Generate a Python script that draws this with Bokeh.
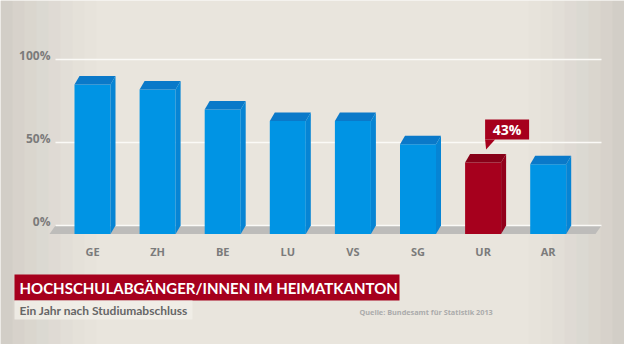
from bokeh.plotting import figure
from bokeh.models import Range1d, BoxAnnotation, ColumnDataSource
from bokeh.core.properties import value
from bokeh.embed import file_html
from bokeh.resources import INLINE

# ---- data ----
cantons = ["GE", "ZH", "BE", "LU", "VS", "SG", "UR", "AR"]
shares = [90, 87, 75, 68, 68, 54, 43, 42]
highlight = "UR"
y_ticks = [0, 50, 100]
y_tick_labels = ["0%", "50%", "100%"]
title = "HOCHSCHULABGÄNGER/INNEN IM HEIMATKANTON"
subtitle = "Ein Jahr nach Studiumabschluss"
source = "Quelle: Bundesamt für Statistik 2013"

# ---- geometry (reference pixels -> data) ----
PX_PER_CAT = 65.1
X0 = 100.0          # pixel x of first category centre
PX_PER_PCT = 1.66
Y0 = 233.0          # pixel y of 0 %


def dx(X):
    return (X - X0) / PX_PER_CAT


def dy(Y):
    return (Y0 - Y) / PX_PER_PCT


W = 18 / PX_PER_CAT          # half bar width
DX = 5 / PX_PER_CAT          # depth offset x
D = 8.5 / PX_PER_PCT          # depth offset y

p = figure(width=624, height=344, output_backend="svg", toolbar_location=None,
           x_range=Range1d(dx(8), dx(632)), y_range=Range1d(dy(352), dy(8)),
           x_axis_location=None, y_axis_location=None, min_border=0)
p.outline_line_color = None
p.grid.visible = False
p.background_fill_color = "#e9e5dd"
p.border_fill_color = "#e9e5dd"

# subtle vignette on the edges
for i, a in enumerate([0.06, 0.05, 0.045, 0.04, 0.035, 0.03, 0.025, 0.02]):
    w = 12 * (i + 1)
    p.add_layout(BoxAnnotation(left=dx(8), right=dx(8 + w), fill_color="#9c9a96",
                               fill_alpha=a, line_color=None, level="underlay"))
    p.add_layout(BoxAnnotation(right=dx(632), left=dx(632 - w), fill_color="#9c9a96",
                               fill_alpha=a, line_color=None, level="underlay"))

# floor
p.patch([dx(63), dx(609), dx(603), dx(57)], [0, 0, -D, -D], fill_color="#bdbcba", line_color=None)

# gridlines
for t in y_ticks:
    p.segment(x0=dx(63), y0=t, x1=dx(609), y1=t, line_color="#fbfaf7", line_width=1.6)

# y tick labels
p.text(x=[dx(58)] * len(y_ticks), y=[t + 2.2 for t in y_ticks], text=y_tick_labels,
       text_align="right", text_baseline="middle", text_font=value("Open Sans"),
       text_font_style="bold", text_font_size="12px", text_color="#7b7b7b")

# bars (3D)
idx = list(range(len(cantons)))
front_col, top_col, side_col = [], [], []
for c in cantons:
    if c == highlight:
        front_col.append("#a6001d"); top_col.append("#870018"); side_col.append("#92001b")
    else:
        front_col.append("#0094e4"); top_col.append("#0a79c9"); side_col.append("#0684d4")

src = ColumnDataSource(dict(l=[i - W for i in idx], r=[i + W for i in idx],
                            b=[-D] * len(idx), t=[v - D for v in shares], c=front_col))
p.quad(left="l", right="r", bottom="b", top="t", fill_color="c", line_color=None, source=src)

top_xs, top_ys, side_xs, side_ys = [], [], [], []
for i, v in zip(idx, shares):
    top_xs.append([i - W, i - W + DX, i + W + DX, i + W])
    top_ys.append([v - D, v, v, v - D])
    side_xs.append([i + W, i + W + DX, i + W + DX, i + W])
    side_ys.append([v - D, v, 0, -D])
p.patches(top_xs, top_ys, fill_color=top_col, line_color=None)
p.patches(side_xs, side_ys, fill_color=side_col, line_color=None)

# category labels
p.text(x=idx, y=[dy(259)] * len(idx), text=cantons, text_align="center", text_baseline="middle",
       text_font=value("Open Sans"), text_font_style="bold", text_font_size="11px",
       text_color="#7b7b7b")

# callout for highlighted bar
hi = cantons.index(highlight)
hv = shares[hi]
bl, br = hi + 2 / PX_PER_CAT, hi + 46 / PX_PER_CAT
bb, bt = hv + 14.5 / PX_PER_PCT, hv + 34.5 / PX_PER_PCT
p.quad(left=[bl], right=[br], bottom=[bb], top=[bt], fill_color="#a6001d", line_color=None)
p.patch([bl, bl + 10 / PX_PER_CAT, bl + 1 / PX_PER_CAT], [bb + 0.1, bb + 0.1, bb - 10 / PX_PER_PCT],
        fill_color="#a6001d", line_color=None)
p.text(x=[(bl + br) / 2], y=[(bb + bt) / 2], text=[f"{hv}%"], text_align="center",
       text_baseline="middle", text_font=value("Open Sans"), text_font_style="bold",
       text_font_size="14px", text_color="white")

# title block
p.quad(left=[dx(22)], right=[dx(407)], bottom=[dy(308)], top=[dy(282)],
       fill_color="#a6001d", line_color=None)
p.quad(left=[dx(22)], right=[dx(200)], bottom=[dy(327)], top=[dy(308)],
       fill_color="#f1eee8", fill_alpha=0.85, line_color=None)
p.text(x=[dx(27)], y=[dy(295.5)], text=[title], text_align="left", text_baseline="middle",
       text_font=value("Lato"), text_font_style="bold", text_font_size="15px",
       text_color="white")
p.text(x=[dx(27)], y=[dy(318)], text=[subtitle], text_align="left", text_baseline="middle",
       text_font=value("Lato"), text_font_style="bold", text_font_size="12px",
       text_color="#666666")
p.text(x=[dx(367)], y=[dy(319.5)], text=[source], text_align="left", text_baseline="middle",
       text_font=value("Open Sans"), text_font_style="bold", text_font_size="7.3px",
       text_color="#ababab")

open("out.html", "w").write(file_html(p, INLINE))
